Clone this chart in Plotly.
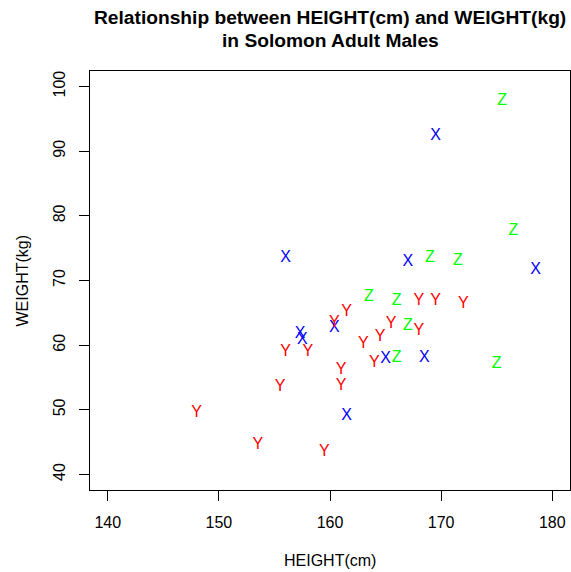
import plotly.graph_objects as go

# Group X (blue)
x_height = [156.0, 169.5, 167.0, 178.5, 157.3, 157.5, 160.4, 165.0, 168.5, 161.5]
x_weight = [73.5, 92.3, 72.8, 71.6, 61.8, 60.8, 62.6, 57.9, 58.0, 49.1]

# Group Y (red)
y_height = [156.0, 158.0, 155.5, 148.0, 153.5, 159.5, 168.0, 169.5, 172.0,
            161.5, 160.4, 165.5, 168.0, 164.5, 163.0, 164.0, 161.0, 161.0]
y_weight = [58.9, 58.9, 53.5, 49.5, 44.5, 43.5, 66.9, 66.9, 66.4,
            65.2, 63.5, 63.3, 62.2, 61.3, 60.2, 57.3, 56.2, 53.7]

# Group Z (green)
z_height = [175.5, 176.5, 169.0, 171.5, 163.5, 166.0, 167.0, 166.0, 175.0]
z_weight = [97.7, 77.6, 73.5, 73.0, 67.4, 66.9, 62.9, 58.0, 57.1]

x_ticks = [140, 150, 160, 170, 180]
y_ticks = [40, 50, 60, 70, 80, 90, 100]

FONT = "Arial, Liberation Sans, sans-serif"

fig = go.Figure()
for xs, ys, lab, col in [(x_height, x_weight, "X", "#0000FF"),
                         (y_height, y_weight, "Y", "#FF0000"),
                         (z_height, z_weight, "Z", "#00FF00")]:
    fig.add_trace(go.Scatter(
        x=xs, y=ys, mode="text", text=[lab] * len(xs),
        textposition="middle center",
        textfont=dict(family=FONT, size=16, color=col),
        showlegend=False, hoverinfo="x+y"))

axis_common = dict(
    showline=True, mirror=True, linecolor="black", linewidth=1,
    ticks="outside", ticklen=10, tickcolor="black", tickwidth=1,
    showgrid=False, zeroline=False,
    tickfont=dict(family=FONT, size=16, color="black"),
)

fig.update_layout(
    width=571, height=572,
    margin=dict(l=90, r=1, t=71, b=82),
    paper_bgcolor="white", plot_bgcolor="white",
    xaxis=dict(range=[138.4, 181.6], tickvals=x_ticks,
               ticktext=[str(v) for v in x_ticks],
               ticklabelstandoff=8, **axis_common),
    yaxis=dict(range=[37.6, 102.4], tickvals=y_ticks,
               ticktext=[str(v) for v in y_ticks], tickangle=-90,
               ticklabelstandoff=8, **axis_common),
    annotations=[
        dict(text="<b>Relationship between HEIGHT(cm) and WEIGHT(kg)</b>",
             xref="paper", yref="paper", x=0.5, y=1, yshift=54,
             xanchor="center", yanchor="middle", showarrow=False,
             font=dict(family=FONT, size=19.2, color="black")),
        dict(text="<b>in Solomon Adult Males</b>",
             xref="paper", yref="paper", x=0.5, y=1, yshift=31,
             xanchor="center", yanchor="middle", showarrow=False,
             font=dict(family=FONT, size=19.2, color="black")),
        dict(text="HEIGHT(cm)", xref="paper", yref="paper", x=0.5, y=0,
             yshift=-70, xanchor="center", yanchor="middle", showarrow=False,
             font=dict(family=FONT, size=16, color="black")),
        dict(text="WEIGHT(kg)", xref="paper", yref="paper", x=0, y=0.5,
             xshift=-68, textangle=-90, xanchor="center", yanchor="middle",
             showarrow=False, font=dict(family=FONT, size=16, color="black")),
    ],
)

fig.write_html("out.html")
